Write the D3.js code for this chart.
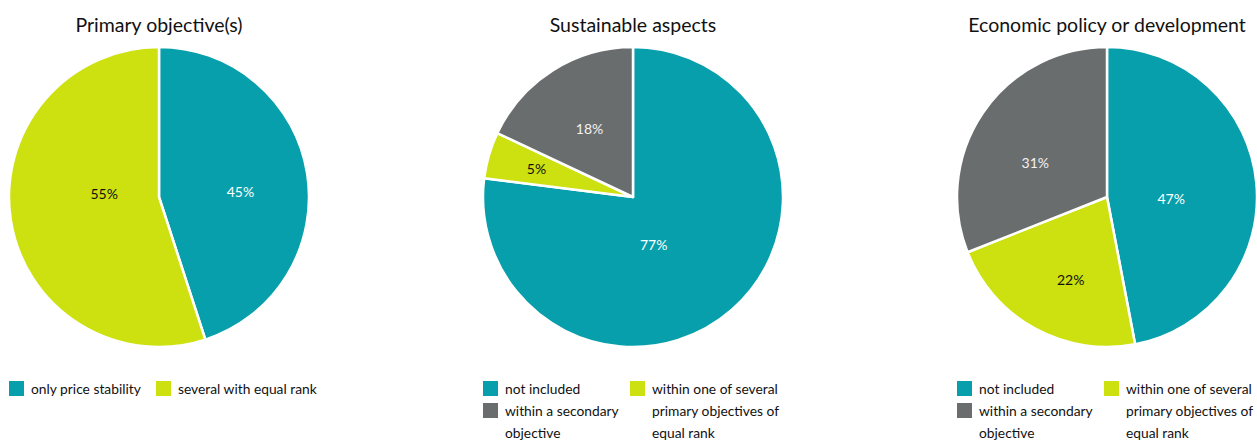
<!DOCTYPE html>
<html><head><meta charset="utf-8">
<script src="https://cdn.jsdelivr.net/npm/d3@7"></script>
<style>body{margin:0;background:#fff}svg{display:block}</style>
</head><body>
<svg id="c" width="1257" height="441"></svg>
<script>
// ---- data ----
const titles = ["Primary objective(s)", "Sustainable aspects", "Economic policy or development"];
const pie1Categories = ["only price stability", "several with equal rank"];
const pie1Values = [45, 55];
const pie2Categories = ["not included", "within one of several primary objectives of equal rank", "within a secondary objective"];
const pie2Values = [77, 5, 18];
const pie3Categories = ["not included", "within one of several primary objectives of equal rank", "within a secondary objective"];
const pie3Values = [47, 22, 31];

// ---- styling / layout ----
const colorMap = {
  "only price stability": "#079fab",
  "not included": "#079fab",
  "several with equal rank": "#cde010",
  "within one of several primary objectives of equal rank": "#cde010",
  "within a secondary objective": "#6a6d6e"
};
const labelColor = {"#079fab": "#fff", "#cde010": "#111", "#6a6d6e": "#f2f2f2"};
const FONT = "Lato, 'Open Sans', sans-serif";
const R = 150, CY = 197;
const centers = [159, 633, 1107];
// label radius (fraction of R) and pixel nudges per slice
const labelR = [[0.55, 0.37], [0.34, 0.67, 0.54], [0.43, 0.6, 0.53]];
const labelDx = [[0, 0], [-13, 0, 0], [0, 7, -6]];
const labelDy = [[8, -12], [10, 0, 0], [8, 4, 11]];

const svg = d3.select("#c");
const pies = [
  {cats: pie1Categories, vals: pie1Values},
  {cats: pie2Categories, vals: pie2Values},
  {cats: pie3Categories, vals: pie3Values}
];
const pieGen = d3.pie().sort(null).value(d => d.v);
const arc = d3.arc().innerRadius(0).outerRadius(R);

pies.forEach((p, i) => {
  const cx = centers[i];
  const g = svg.append("g").attr("transform", `translate(${cx},${CY})`);
  const data = p.cats.map((c, j) => ({c, v: p.vals[j]}));
  const arcs = pieGen(data);
  g.selectAll("path").data(arcs).join("path")
    .attr("d", arc)
    .attr("fill", d => colorMap[d.data.c])
    .attr("stroke", "#fff").attr("stroke-width", 2.5).attr("stroke-linejoin", "round");
  g.selectAll("text.lbl").data(arcs).join("text")
    .attr("class", "lbl")
    .attr("transform", (d, j) => {
      const rr = labelR[i][j] * R;
      const a = (d.startAngle + d.endAngle) / 2;
      return `translate(${rr * Math.sin(a) + labelDx[i][j]},${-rr * Math.cos(a) + labelDy[i][j]})`;
    })
    .attr("text-anchor", "middle").attr("dy", "0.35em")
    .attr("font-family", FONT).attr("font-size", 14).attr("font-weight", 400)
    .attr("fill", d => labelColor[colorMap[d.data.c]])
    .text(d => d.data.v + "%");

  svg.append("text")
    .attr("x", cx).attr("y", 32)
    .attr("text-anchor", "middle")
    .attr("font-family", FONT).attr("font-size", 19.5).attr("fill", "#111")
    .text(titles[i]);

  // legend
  const lx = cx - R;
  let legendItems;
  if (i === 0) {
    legendItems = [
      {c: p.cats[0], lines: ["only price stability"], x: lx, y: 381},
      {c: p.cats[1], lines: ["several with equal rank"], x: lx + 147, y: 381}
    ];
  } else {
    legendItems = [
      {c: p.cats[0], lines: ["not included"], x: lx, y: 381},
      {c: p.cats[2], lines: ["within a secondary", "objective"], x: lx, y: 403},
      {c: p.cats[1], lines: ["within one of several", "primary objectives of", "equal rank"], x: lx + 147, y: 381}
    ];
  }
  legendItems.forEach(it => {
    svg.append("rect").attr("x", it.x).attr("y", it.y).attr("width", 15).attr("height", 15)
      .attr("fill", colorMap[it.c]);
    const t = svg.append("text").attr("x", it.x + 22).attr("y", it.y + 13)
      .attr("font-family", FONT).attr("font-size", 13.8).attr("fill", "#111");
    it.lines.forEach((ln, k) => t.append("tspan").attr("x", it.x + 22).attr("dy", k ? 22 : 0).text(ln));
  });
});
</script>
</body></html>
